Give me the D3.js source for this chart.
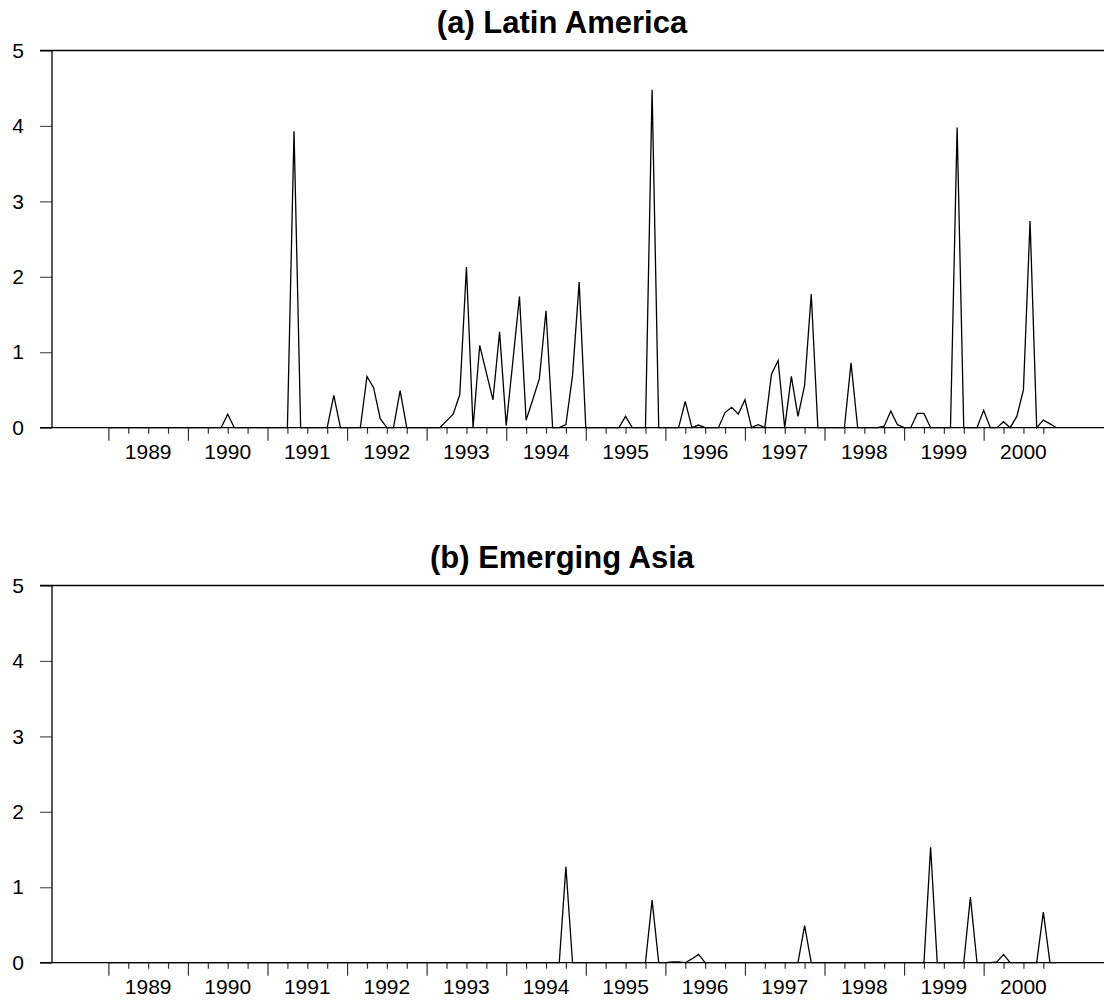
<!DOCTYPE html>
<html>
<head>
<meta charset="utf-8">
<script src="https://cdn.jsdelivr.net/npm/d3@7"></script>
<style>
  body { margin: 0; background: #fff; }
  text { font-family: "Liberation Sans", Arial, Helvetica, sans-serif; }
</style>
</head>
<body>
<div id="chart"></div>
<script>
// monthly data, Jan 1989 .. Dec 2000 (one row per year)
const years = [1989, 1990, 1991, 1992, 1993, 1994, 1995, 1996, 1997, 1998, 1999, 2000];
const yTicks = [0, 1, 2, 3, 4, 5];
const titles = ['(a) Latin America', '(b) Emerging Asia'];

const latinAmerica = [
  0, 0, 0, 0, 0, 0, 0, 0, 0, 0, 0, 0,
  0, 0, 0, 0, 0, 0, 0.18, 0, 0, 0, 0, 0,
  0, 0, 0, 0, 3.93, 0, 0, 0, 0, 0, 0.43, 0,
  0, 0, 0, 0.68, 0.53, 0.12, 0, 0, 0.49, 0, 0, 0,
  0, 0, 0, 0.09, 0.18, 0.44, 2.13, 0, 1.09, 0.73, 0.37, 1.27,
  0.03, 0.88, 1.74, 0.10, 0.37, 0.65, 1.55, 0, 0, 0.04, 0.69, 1.93,
  0, 0, 0, 0, 0, 0, 0.15, 0, 0, 0, 4.48, 0,
  0, 0, 0, 0.35, 0, 0.035, 0, 0, 0, 0.20, 0.27, 0.18,
  0.37, 0, 0.04, 0, 0.71, 0.89, 0, 0.68, 0.15, 0.56, 1.77, 0,
  0, 0, 0, 0, 0.86, 0, 0, 0, 0, 0.02, 0.22, 0.04,
  0, 0, 0.19, 0.19, 0, 0, 0, 0, 3.98, 0, 0, 0,
  0.23, 0, 0, 0.08, 0, 0.15, 0.50, 2.74, 0, 0.10, 0.05, 0
];

const emergingAsia = [
  0, 0, 0, 0, 0, 0, 0, 0, 0, 0, 0, 0,
  0, 0, 0, 0, 0, 0, 0, 0, 0, 0, 0, 0,
  0, 0, 0, 0, 0, 0, 0, 0, 0, 0, 0, 0,
  0, 0, 0, 0, 0, 0, 0, 0, 0, 0, 0, 0,
  0, 0, 0, 0, 0, 0, 0, 0, 0, 0, 0, 0,
  0, 0, 0, 0, 0, 0, 0, 0, 0, 1.27, 0, 0,
  0, 0, 0, 0, 0, 0, 0, 0, 0, 0, 0.83, 0,
  0, 0.01, 0.01, 0, 0.05, 0.11, 0, 0, 0, 0, 0, 0,
  0, 0, 0, 0, 0, 0, 0, 0, 0, 0.49, 0, 0,
  0, 0, 0, 0, 0, 0, 0, 0, 0, 0, 0, 0,
  0, 0, 0, 0, 1.53, 0, 0, 0, 0, 0, 0.87, 0,
  0, 0, 0.01, 0.11, 0, 0, 0, 0, 0, 0.67, 0, 0
];

const series = [latinAmerica, emergingAsia];

let width = 1104,
    height = 1003;

let svg = d3.select('#chart').append('svg')
    .attr('width', width)
    .attr('height', height)
    .style('background', '#fff');

// month index 0 = Jan 1989
let x = d3.scaleLinear().domain([-8.5, 150.15]).range([52, width]);

series.forEach((data, i) => {
    let top = 50.5 + i * 535;
    let y = d3.scaleLinear().domain([0, 5]).range([top + 377.2, top]);
    let g = svg.append('g');

    g.append('text')
        .attr('x', 562)
        .attr('y', top - 17.5)
        .attr('text-anchor', 'middle')
        .style('font-weight', 'bold')
        .style('font-size', '31px')
        .text(titles[i]);

    // y axis
    let yAxis = g.append('g')
        .attr('transform', 'translate(52,0)')
        .call(d3.axisLeft(y).tickValues(yTicks).tickSize(12).tickPadding(16).tickFormat(d3.format('d')));
    yAxis.select('.domain').remove();
    yAxis.selectAll('.tick line').attr('stroke', '#555').attr('stroke-width', 1.2);
    yAxis.selectAll('.tick text').style('font-size', '21px').attr('fill', '#000');

    // x axis: quarterly ticks, long ticks at year start
    let xAxis = g.append('g')
        .attr('transform', 'translate(0,' + y(0) + ')')
        .call(d3.axisBottom(x).tickValues(d3.range(0, 142, 3)).tickSize(6).tickFormat(''));
    xAxis.select('.domain').remove();
    xAxis.selectAll('.tick line')
        .attr('y2', d => d % 12 === 0 ? 13 : 6)
        .attr('stroke', '#333')
        .attr('stroke-width', 1.2);

    g.selectAll('.year')
        .data(years)
        .join('text')
        .attr('class', 'year')
        .attr('x', (d, k) => x(k * 12 + 6))
        .attr('y', y(0) + 31.5)
        .attr('text-anchor', 'middle')
        .style('font-size', '21px')
        .text(d => d);

    // frame: top border, left axis, zero line
    g.append('line')
        .attr('x1', 40).attr('x2', width)
        .attr('y1', y(5)).attr('y2', y(5))
        .attr('stroke', '#000').attr('stroke-width', 1.3);
    g.append('line')
        .attr('x1', 52).attr('x2', 52)
        .attr('y1', y(5)).attr('y2', y(0))
        .attr('stroke', '#000').attr('stroke-width', 1.3);
    g.append('line')
        .attr('x1', 40).attr('x2', width)
        .attr('y1', y(0)).attr('y2', y(0))
        .attr('stroke', '#000').attr('stroke-width', 1.3);

    let line = d3.line()
        .x((d, k) => x(k))
        .y(d => y(d));

    g.append('path')
        .datum(data)
        .attr('d', line)
        .attr('fill', 'none')
        .attr('stroke', '#000')
        .attr('stroke-width', 1.3)
        .attr('stroke-linejoin', 'miter');
});
</script>
</body>
</html>
